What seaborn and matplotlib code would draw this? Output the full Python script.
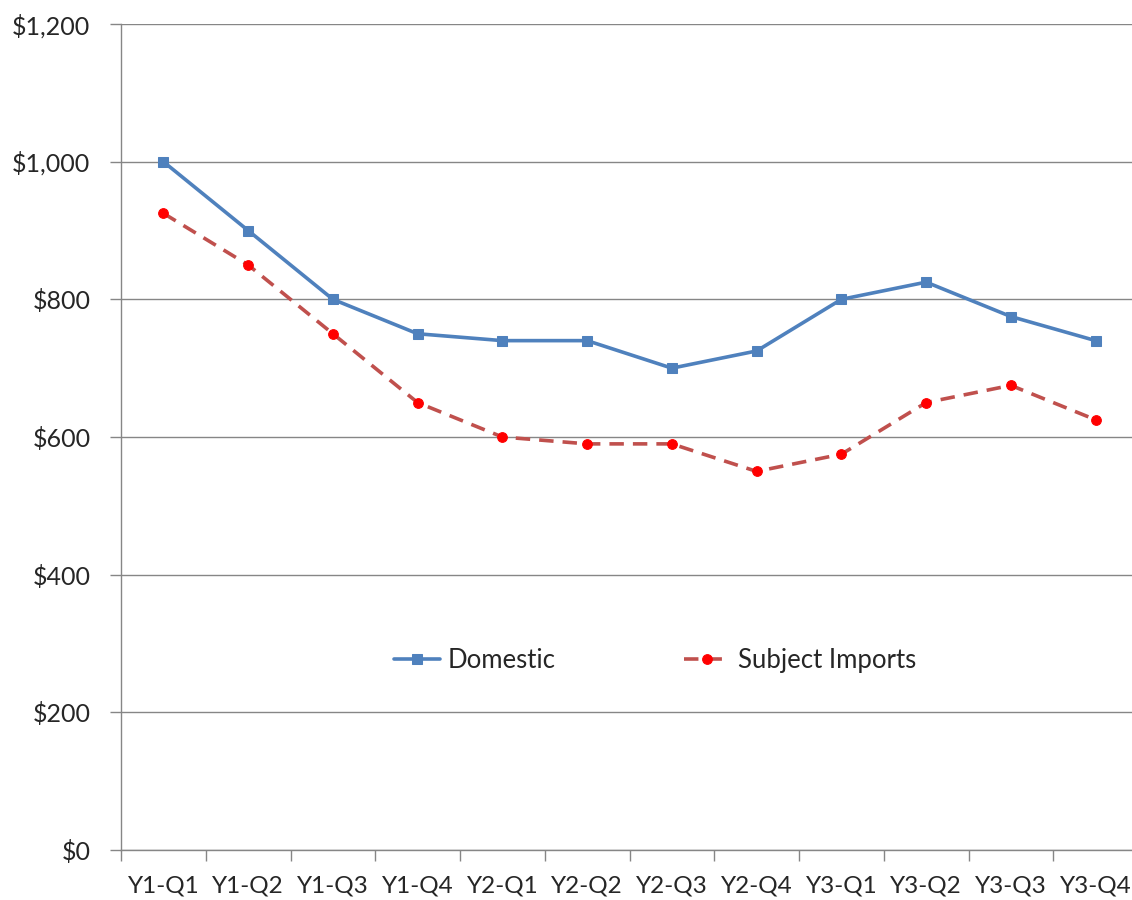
import pandas as pd
import matplotlib
matplotlib.use("Agg")
import matplotlib.pyplot as plt
import seaborn as sns
from matplotlib.ticker import FuncFormatter, FixedLocator

# Quarterly prices
quarters = ["Y1-Q1", "Y1-Q2", "Y1-Q3", "Y1-Q4", "Y2-Q1", "Y2-Q2",
            "Y2-Q3", "Y2-Q4", "Y3-Q1", "Y3-Q2", "Y3-Q3", "Y3-Q4"]
domestic = [1000, 900, 800, 750, 740, 740, 700, 725, 800, 825, 775, 740]
imports = [925, 850, 750, 650, 600, 590, 590, 550, 575, 650, 675, 625]

df = pd.DataFrame({"Quarter": quarters, "Domestic": domestic, "Subject Imports": imports})
df["pos"] = range(len(quarters))

sns.set_style("white")
plt.rcParams["font.family"] = ["Lato", "DejaVu Sans"]

fig = plt.figure(figsize=(11.32, 9), dpi=100)
ax = fig.add_axes([121 / 1132, 1 - 850 / 900, (1138 - 121) / 1132, 826 / 900])

grid_c = "#868686"
ax.set_axisbelow(True)
ax.yaxis.grid(True, color=grid_c, linewidth=1)

sns.lineplot(data=df, x="pos", y="Domestic", ax=ax, color="#4F81BD", linewidth=2.6,
             marker="s", markersize=7.5, markeredgecolor="#4F81BD", label="Domestic")
sns.lineplot(data=df, x="pos", y="Subject Imports", ax=ax, color="#C0504D", linewidth=2.6,
             linestyle=(0, (4, 2.5)), marker="o", markersize=7, markerfacecolor="#FF0000",
             markeredgecolor="#FF0000", label="Subject Imports")

ax.set_ylim(0, 1200)
ax.set_xlim(-0.5, len(quarters) - 0.5)
ax.set_yticks(range(0, 1201, 200))
ax.yaxis.set_major_formatter(FuncFormatter(lambda v, p: f"${v:,.0f}"))
ax.set_xticks(df["pos"])
ax.set_xticklabels(quarters)
ax.xaxis.set_minor_locator(FixedLocator([i - 0.5 for i in range(len(quarters) + 1)]))
ax.tick_params(axis="x", which="major", bottom=True, length=0, pad=18, labelsize=17.5)
ax.tick_params(axis="x", which="minor", bottom=True, length=8, width=1, color=grid_c,
               direction="out")
ax.tick_params(axis="y", left=True, length=8, width=1, color=grid_c, direction="out",
               pad=14, labelsize=18)
ax.set_xlabel("")
ax.set_ylabel("")

for s in ["top", "right"]:
    ax.spines[s].set_visible(False)
for s in ["left", "bottom"]:
    ax.spines[s].set_color(grid_c)
    ax.spines[s].set_linewidth(1)

ax.legend(loc="center", bbox_to_anchor=(0.525, 0.229), ncol=2, frameon=False,
          fontsize=18.5, handlelength=1.8, handletextpad=0.3, columnspacing=5.0)

fig.savefig("out.png", dpi=100)
